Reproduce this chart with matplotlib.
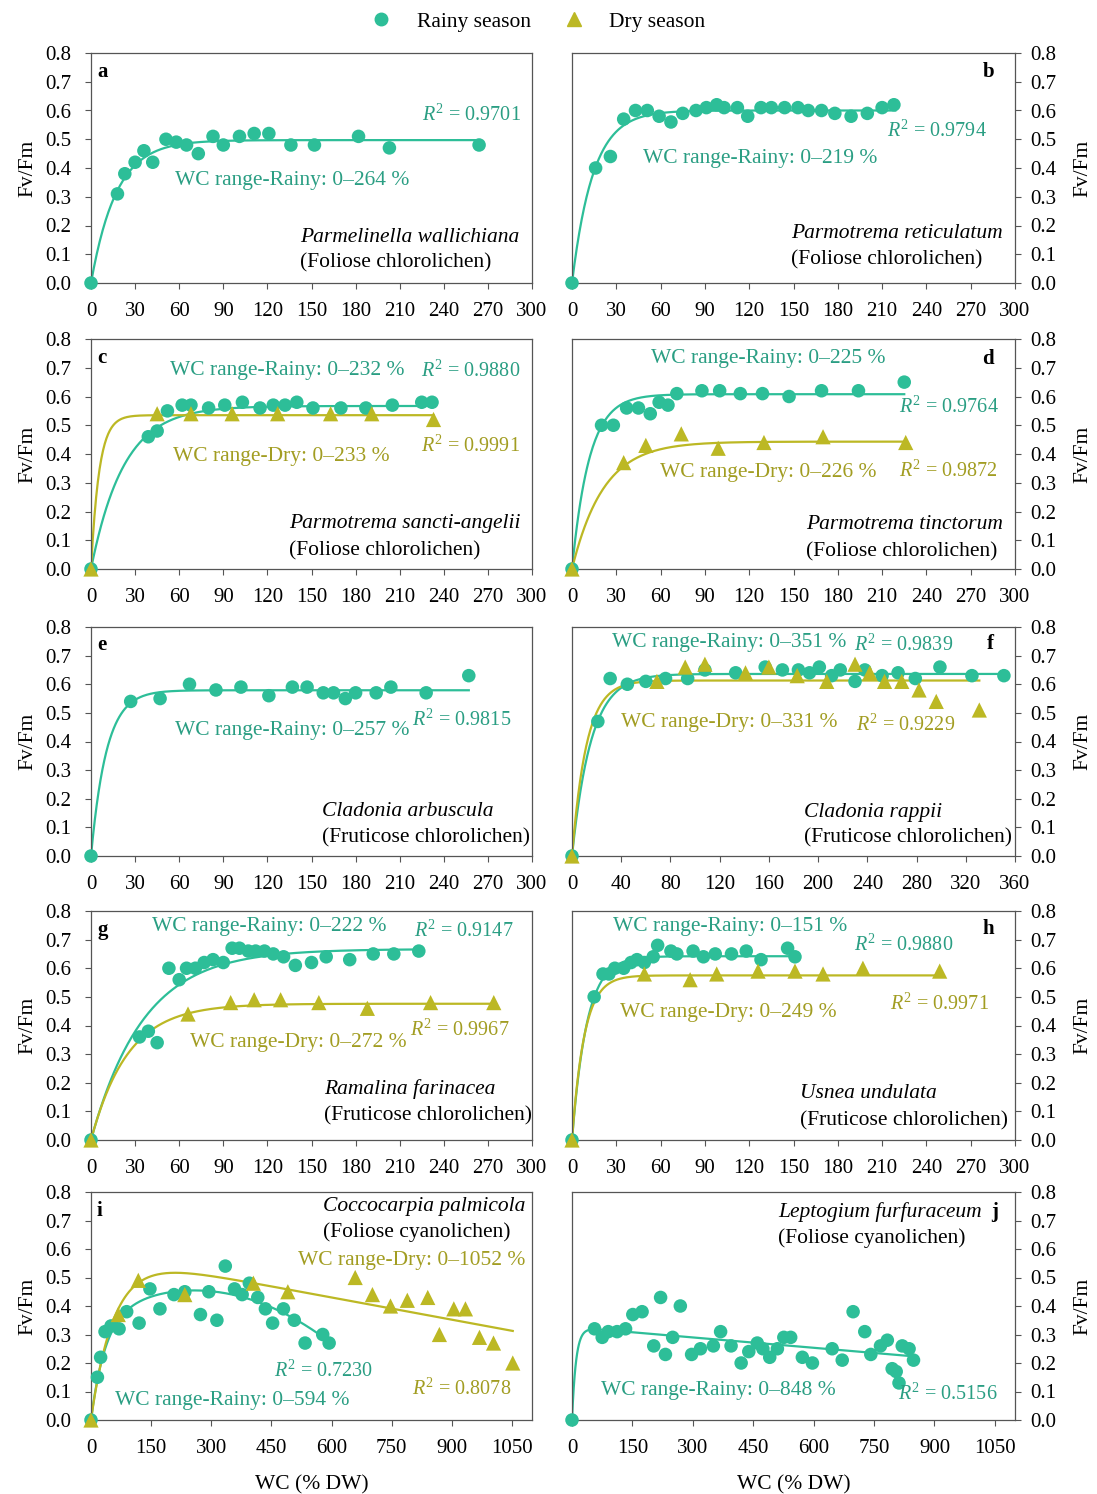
import numpy as np
import matplotlib
matplotlib.use("Agg")
import matplotlib.pyplot as plt
from matplotlib.lines import Line2D

plt.rcParams['font.family'] = ['Liberation Serif', 'DejaVu Serif']
plt.rcParams['mathtext.fontset'] = 'custom'
plt.rcParams['mathtext.rm'] = 'Liberation Serif'
plt.rcParams['mathtext.it'] = 'Liberation Serif:italic'

W, H = 1097, 1494
RAINY = '#2DBE98'
DRY = '#BCB824'
RAINY_TXT = '#2A9E83'
DRY_TXT = '#A29D22'
FS = 15.5

# ---- data (WC % DW, Fv/Fm) ----
a_rainy_wc = [0, 18, 23, 30, 36, 42, 51, 58, 65, 73, 83, 90, 101, 111, 121, 136, 152, 182, 203, 264]
a_rainy_fv = [0, 0.31, 0.38, 0.42, 0.46, 0.42, 0.50, 0.49, 0.48, 0.45, 0.51, 0.48, 0.51, 0.52, 0.52, 0.48, 0.48, 0.51, 0.47, 0.48]

b_rainy_wc = [0, 16, 26, 35, 43, 51, 59, 67, 75, 84, 91, 98, 103, 112, 119, 128, 135, 144, 153, 160, 169, 178, 189, 200, 210, 218]
b_rainy_fv = [0, 0.40, 0.44, 0.57, 0.60, 0.60, 0.58, 0.56, 0.59, 0.60, 0.61, 0.62, 0.61, 0.61, 0.58, 0.61, 0.61, 0.61, 0.61, 0.60, 0.60, 0.59, 0.58, 0.59, 0.61, 0.62]

c_rainy_wc = [0, 39, 45, 52, 62, 68, 80, 91, 103, 115, 124, 132, 140, 151, 170, 187, 205, 225, 232]
c_rainy_fv = [0, 0.46, 0.48, 0.55, 0.57, 0.57, 0.56, 0.57, 0.58, 0.56, 0.57, 0.57, 0.58, 0.56, 0.56, 0.56, 0.57, 0.58, 0.58]
c_dry_wc = [0, 45, 68, 96, 127, 163, 191, 233]
c_dry_fv = [0, 0.54, 0.54, 0.54, 0.54, 0.54, 0.54, 0.52]

d_rainy_wc = [0, 20, 28, 37, 45, 53, 59, 65, 71, 88, 100, 114, 129, 147, 169, 194, 225]
d_rainy_fv = [0, 0.50, 0.50, 0.56, 0.56, 0.54, 0.58, 0.57, 0.61, 0.62, 0.62, 0.61, 0.61, 0.60, 0.62, 0.62, 0.65]
d_dry_wc = [0, 35, 50, 74, 99, 130, 170, 226]
d_dry_fv = [0, 0.37, 0.43, 0.47, 0.42, 0.44, 0.46, 0.44]

e_rainy_wc = [0, 27, 47, 67, 85, 102, 121, 137, 147, 158, 165, 173, 180, 194, 204, 228, 257]
e_rainy_fv = [0, 0.54, 0.55, 0.60, 0.58, 0.59, 0.56, 0.59, 0.59, 0.57, 0.57, 0.55, 0.57, 0.57, 0.59, 0.57, 0.63]

f_rainy_wc = [0, 21, 31, 45, 60, 76, 94, 108, 133, 157, 171, 184, 193, 201, 211, 218, 230, 238, 252, 265, 279, 299, 325, 351]
f_rainy_fv = [0, 0.47, 0.62, 0.60, 0.61, 0.62, 0.62, 0.65, 0.64, 0.66, 0.65, 0.65, 0.64, 0.66, 0.63, 0.65, 0.61, 0.65, 0.63, 0.64, 0.62, 0.66, 0.63, 0.63]
f_dry_wc = [0, 69, 92, 108, 141, 160, 183, 207, 230, 242, 254, 268, 282, 296, 331]
f_dry_fv = [0, 0.61, 0.66, 0.67, 0.64, 0.66, 0.63, 0.61, 0.67, 0.64, 0.61, 0.61, 0.58, 0.54, 0.51]

g_rainy_wc = [0, 33, 39, 45, 53, 60, 65, 71, 77, 83, 90, 96, 101, 107, 112, 118, 124, 131, 139, 150, 160, 176, 192, 206, 223]
g_rainy_fv = [0, 0.36, 0.38, 0.34, 0.60, 0.56, 0.60, 0.60, 0.62, 0.63, 0.62, 0.67, 0.67, 0.66, 0.66, 0.66, 0.65, 0.64, 0.61, 0.62, 0.64, 0.63, 0.65, 0.65, 0.66]
g_dry_wc = [0, 66, 95, 111, 129, 155, 188, 231, 274]
g_dry_fv = [0, 0.44, 0.48, 0.49, 0.49, 0.48, 0.46, 0.48, 0.48]

h_rainy_wc = [0, 15, 21, 25, 29, 35, 40, 44, 49, 55, 58, 67, 71, 82, 89, 97, 108, 118, 128, 146, 151]
h_rainy_fv = [0, 0.50, 0.58, 0.58, 0.60, 0.60, 0.62, 0.63, 0.62, 0.64, 0.68, 0.66, 0.65, 0.66, 0.64, 0.65, 0.65, 0.66, 0.63, 0.67, 0.64]
h_dry_wc = [0, 49, 80, 98, 126, 151, 170, 197, 249]
h_dry_fv = [0, 0.58, 0.56, 0.58, 0.59, 0.59, 0.58, 0.60, 0.59]

i_rainy_wc = [0, 16, 24, 35, 50, 70, 89, 120, 147, 172, 207, 234, 273, 294, 314, 335, 358, 377, 395, 416, 435, 453, 480, 507, 534, 578, 594]
i_rainy_fv = [0, 0.15, 0.22, 0.31, 0.33, 0.32, 0.38, 0.34, 0.46, 0.39, 0.44, 0.45, 0.37, 0.45, 0.35, 0.54, 0.46, 0.44, 0.48, 0.43, 0.39, 0.34, 0.39, 0.35, 0.27, 0.30, 0.27]
i_dry_wc = [0, 68, 118, 234, 405, 491, 659, 702, 747, 789, 840, 869, 905, 934, 969, 1004, 1052]
i_dry_fv = [0, 0.37, 0.49, 0.44, 0.48, 0.45, 0.50, 0.44, 0.40, 0.42, 0.43, 0.30, 0.39, 0.39, 0.29, 0.27, 0.20]

j_rainy_wc = [0, 56, 75, 90, 112, 133, 151, 174, 203, 220, 232, 250, 269, 297, 319, 351, 369, 395, 420, 439, 460, 474, 491, 510, 526, 543,
              572, 597, 646, 671, 698, 727, 742, 766, 783, 795, 805, 812, 820, 837, 848]
j_rainy_fv = [0, 0.32, 0.29, 0.31, 0.31, 0.32, 0.37, 0.38, 0.26, 0.43, 0.23, 0.29, 0.40, 0.23, 0.25, 0.26, 0.31, 0.26, 0.20, 0.24, 0.27, 0.25,
              0.22, 0.25, 0.29, 0.29, 0.22, 0.20, 0.25, 0.21, 0.38, 0.31, 0.23, 0.26, 0.28, 0.18, 0.17, 0.13, 0.26, 0.25, 0.21]

# fitted curves: y = a*(1-exp(-b*x)) + c*x + d*x^2, drawn from 0 to the WC range end
fits_rainy = {'a': (0.497, 0.058, 0, 0, 264), 'b': (0.60, 0.07, 0, 0, 219), 'c': (0.567, 0.045, 0, 0, 232),
              'd': (0.608, 0.085, 0, 0, 225), 'e': (0.579, 0.095, 0, 0, 257), 'f': (0.636, 0.0645, 0, 0, 351),
              'g': (0.667, 0.028, 0, 0, 222), 'h': (0.642, 0.10, 0, 0, 151),
              'i': (0.353, 0.0285, 0.000799, -1.566e-6, 594), 'j': (0.326, 0.10, -0.000121, 0, 848)}
fits_dry = {'c': (0.535, 0.18, 0, 0, 233), 'd': (0.443, 0.047, 0, 0, 226), 'f': (0.613, 0.085, 0, 0, 331),
            'g': (0.476, 0.04, 0, 0, 272), 'h': (0.575, 0.12, 0, 0, 249), 'i': (0.586, 0.0175, -0.00026, 0, 1052)}

r2_rainy = {'a': '0.9701', 'b': '0.9794', 'c': '0.9880', 'd': '0.9764', 'e': '0.9815', 'f': '0.9839',
            'g': '0.9147', 'h': '0.9880', 'i': '0.7230', 'j': '0.5156'}
r2_dry = {'c': '0.9991', 'd': '0.9872', 'f': '0.9229', 'g': '0.9967', 'h': '0.9971', 'i': '0.8078'}
wc_rainy = {'a': '0–264', 'b': '0–219', 'c': '0–232', 'd': '0–225', 'e': '0–257', 'f': '0–351',
            'g': '0–222', 'h': '0–151', 'i': '0–594', 'j': '0–848'}
wc_dry = {'c': '0–233', 'd': '0–226', 'f': '0–331', 'g': '0–272', 'h': '0–249', 'i': '0–1052'}
species = {'a': 'Parmelinella wallichiana', 'b': 'Parmotrema reticulatum', 'c': 'Parmotrema sancti-angelii',
           'd': 'Parmotrema tinctorum', 'e': 'Cladonia arbuscula', 'f': 'Cladonia rappii',
           'g': 'Ramalina farinacea', 'h': 'Usnea undulata', 'i': 'Coccocarpia palmicola', 'j': 'Leptogium furfuraceum'}
groups = {'a': '(Foliose chlorolichen)', 'b': '(Foliose chlorolichen)', 'c': '(Foliose chlorolichen)',
          'd': '(Foliose chlorolichen)', 'e': '(Fruticose chlorolichen)', 'f': '(Fruticose chlorolichen)',
          'g': '(Fruticose chlorolichen)', 'h': '(Fruticose chlorolichen)', 'i': '(Foliose cyanolichen)',
          'j': '(Foliose cyanolichen)'}

data = {'a': (a_rainy_wc, a_rainy_fv, None, None), 'b': (b_rainy_wc, b_rainy_fv, None, None),
        'c': (c_rainy_wc, c_rainy_fv, c_dry_wc, c_dry_fv), 'd': (d_rainy_wc, d_rainy_fv, d_dry_wc, d_dry_fv),
        'e': (e_rainy_wc, e_rainy_fv, None, None), 'f': (f_rainy_wc, f_rainy_fv, f_dry_wc, f_dry_fv),
        'g': (g_rainy_wc, g_rainy_fv, g_dry_wc, g_dry_fv), 'h': (h_rainy_wc, h_rainy_fv, h_dry_wc, h_dry_fv),
        'i': (i_rainy_wc, i_rainy_fv, i_dry_wc, i_dry_fv), 'j': (j_rainy_wc, j_rainy_fv, None, None)}

# ---- layout (pixel positions) ----
cols = [(91, 532), (572, 1015)]
rows = [(53, 283), (339, 569), (627, 856), (911, 1140), (1192, 1420)]
xmax = {'f': 360, 'i': 1100, 'j': 1100}
xstep = {'f': 40, 'i': 150, 'j': 150}
xlast = {'f': 360, 'i': 1050, 'j': 1050}

# text placements: letter, R2 rainy, R2 dry, WC rainy, WC dry, species, group
place = {
    'a': dict(let=(97, 72, 'left'), r2r=(521, 115), wcr=(292, 181), sp=(300, 237), gr=(300, 263)),
    'b': dict(let=(994, 72, 'right'), r2r=(987, 131), wcr=(760, 158), sp=(791, 234), gr=(791, 260)),
    'c': dict(let=(97, 358, 'left'), r2r=(520, 371), r2d=(520, 446), wcr=(287, 370), wcd=(281, 457), sp=(289, 524), gr=(289, 551)),
    'd': dict(let=(994, 359, 'right'), r2r=(999, 407), r2d=(998, 471), wcr=(768, 359), wcd=(768, 473), sp=(806, 525), gr=(806, 552)),
    'e': dict(let=(97, 645, 'left'), r2r=(511, 720), wcr=(292, 730), sp=(322, 812), gr=(322, 838)),
    'f': dict(let=(994, 644, 'right'), r2r=(953, 645), r2d=(955, 725), wcr=(729, 643), wcd=(729, 722), sp=(804, 812), gr=(804, 838)),
    'g': dict(let=(97, 930, 'left'), r2r=(514, 931), r2d=(510, 1030), wcr=(269, 926), wcd=(298, 1043), sp=(324, 1089), gr=(324, 1116)),
    'h': dict(let=(994, 929, 'right'), r2r=(953, 945), r2d=(989, 1004), wcr=(730, 926), wcd=(728, 1012), sp=(800, 1094), gr=(800, 1121)),
    'i': dict(let=(97, 1211, 'left'), r2r=(373, 1371), r2d=(511, 1389), wcr=(232, 1400), wcd=(412, 1261), sp=(323, 1206), gr=(323, 1232)),
    'j': dict(let=(998, 1212, 'right'), r2r=(998, 1394), wcr=(718, 1391), sp=(778, 1212), gr=(778, 1238)),
}


def ftext(fig, px, py, s, **kw):
    fig.text(px / W, 1 - py / H, s, **kw)


def curve(p):
    a, b, c, d, end = p
    x = np.linspace(0, end, 400)
    return x, a * (1 - np.exp(-b * x)) + c * x + d * x ** 2


fig = plt.figure(figsize=(W / 100, H / 100), dpi=100)

for k, key in enumerate('abcdefghij'):
    row, col = divmod(k, 2)
    x0, x1 = cols[col]
    top, bot = rows[row]
    ax = fig.add_axes([x0 / W, 1 - bot / H, (x1 - x0) / W, (bot - top) / H])
    rx, ry, dx, dy = data[key]

    xr, yr = curve(fits_rainy[key])
    ax.plot(xr, yr, color=RAINY, lw=1.6, zorder=2)
    if key in fits_dry:
        xd, yd = curve(fits_dry[key])
        ax.plot(xd, yd, color=DRY, lw=1.6, zorder=2)
    ax.scatter(rx, ry, s=95, marker='o', color=RAINY, edgecolor='none', zorder=3, clip_on=False)
    if dx is not None:
        ax.scatter(dx, dy, s=120, marker='^', color=DRY, edgecolor='none', zorder=4, clip_on=False)

    ax.set_xlim(0, xmax.get(key, 300))
    ax.set_ylim(0, 0.8)
    ax.set_xticks(np.arange(0, xlast.get(key, 300) + 1, xstep.get(key, 30)))
    ax.set_yticks(np.arange(0, 0.81, 0.1))
    ax.yaxis.set_major_formatter(matplotlib.ticker.FormatStrFormatter('%.1f'))
    ax.tick_params(labelsize=15, length=4, width=0.8, color='#555555', direction='out')
    ax.tick_params(axis='x', pad=10)
    for sp in ax.spines.values():
        sp.set_color('#555555')
        sp.set_linewidth(0.9)
    if col == 1:
        ax.yaxis.tick_right()
        ax.tick_params(axis='y', pad=7)
        ax.yaxis.set_label_position('right')
        ax.set_ylabel('Fv/Fm', fontsize=FS, rotation=90)
        ax.yaxis.set_label_coords(1.131, 0.5)
    else:
        ax.tick_params(axis='y', pad=10)
        ax.set_ylabel('Fv/Fm', fontsize=FS)
        ax.yaxis.set_label_coords(-54 / 441, 0.5)
    if row == 4:
        ax.set_xlabel('WC (% DW)', fontsize=FS)
        ax.xaxis.set_label_coords(0.5, -55 / 228)

    p = place[key]
    lx, ly, lha = p['let']
    ftext(fig, lx, ly, key, fontsize=15, fontweight='bold', ha=lha, va='center')
    ftext(fig, p['r2r'][0], p['r2r'][1], r'$R^2$ = ' + r2_rainy[key], fontsize=14.5, color=RAINY_TXT, ha='right', va='center')
    ftext(fig, p['wcr'][0], p['wcr'][1], 'WC range-Rainy: ' + wc_rainy[key] + ' %', fontsize=FS, color=RAINY_TXT, ha='center', va='center')
    if key in r2_dry:
        ftext(fig, p['r2d'][0], p['r2d'][1], r'$R^2$ = ' + r2_dry[key], fontsize=14.5, color=DRY_TXT, ha='right', va='center')
        ftext(fig, p['wcd'][0], p['wcd'][1], 'WC range-Dry: ' + wc_dry[key] + ' %', fontsize=FS, color=DRY_TXT, ha='center', va='center')
    ftext(fig, p['sp'][0], p['sp'][1], species[key], fontsize=FS, style='italic', ha='left', va='center')
    ftext(fig, p['gr'][0], p['gr'][1], groups[key], fontsize=FS, ha='left', va='center')

handles = [Line2D([], [], ls='none', marker='o', ms=9, color=RAINY),
           Line2D([], [], ls='none', marker='^', ms=10, color=DRY)]
fig.legend(handles, ['Rainy season', 'Dry season'], loc='center', bbox_to_anchor=(0.4905, 1 - 22 / H), ncol=2,
           frameon=False, fontsize=FS, handlelength=1.0, handletextpad=1.15, columnspacing=1.5)

fig.savefig('out.png', dpi=100)
